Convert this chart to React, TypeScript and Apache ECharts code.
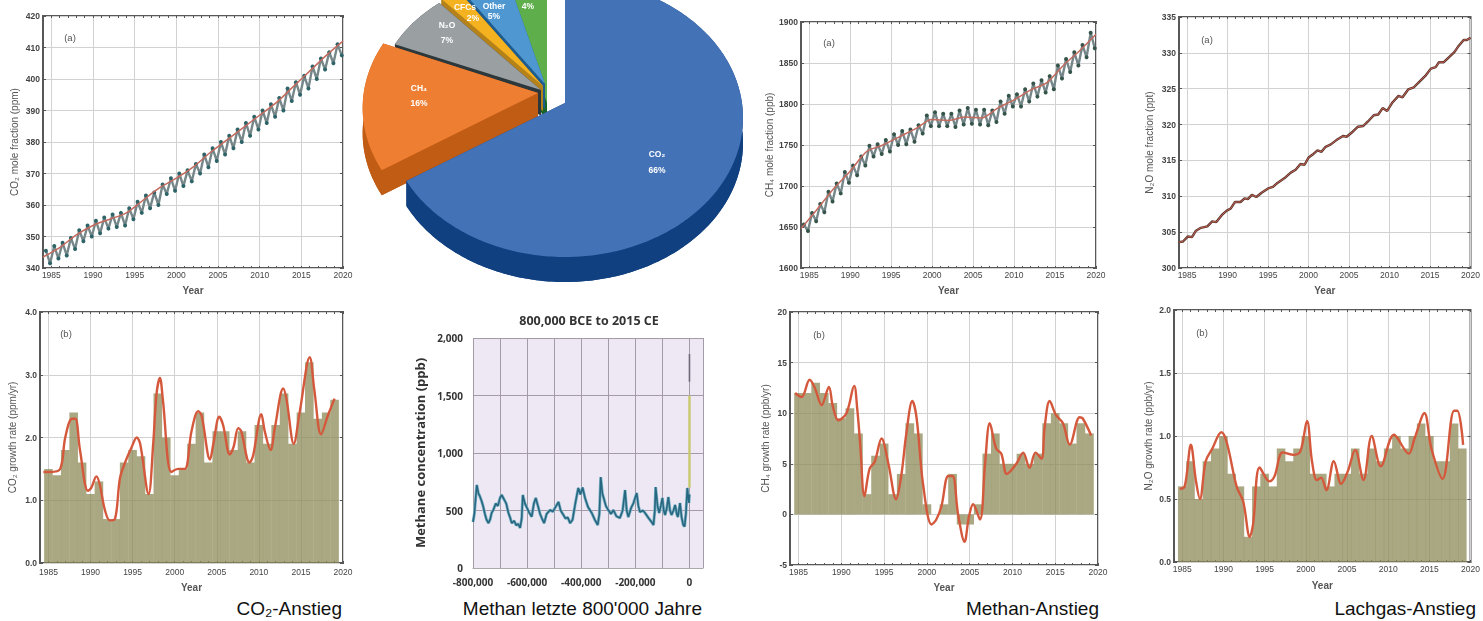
import React, { useEffect, useRef } from "react";
import * as echarts from "echarts";

const labelYears = [1985, 1990, 1995, 2000, 2005, 2010, 2015, 2020];
const tickYears = [1985,1986,1987,1988,1989,1990,1991,1992,1993,1994,1995,1996,1997,1998,1999,2000,2001,2002,2003,2004,2005,2006,2007,2008,2009,2010,2011,2012,2013,2014,2015,2016,2017,2018,2019,2020];
const barYears = tickYears.slice(0, 35);

// [year, peak, trough]
const co2Seasonal = [[1984,345.5,341.5],[1985,347,343],[1986,348,344],[1987,349.5,346],[1988,352,348.5],[1989,353.5,350],[1990,355,351],[1991,356,352.5],[1992,357,353],[1993,357.5,353.5],[1994,359,355.5],[1995,361,357.5],[1996,363,359],[1997,364,360],[1998,366.5,363.5],[1999,368.5,364.5],[2000,370,366],[2001,371,367.5],[2002,373,370],[2003,376,372],[2004,378,374],[2005,380,376],[2006,382,378],[2007,384,380],[2008,386,382],[2009,388,384],[2010,390,386],[2011,392,388],[2012,394,390],[2013,397,393],[2014,399,395],[2015,401,397],[2016,404,400],[2017,406.5,403],[2018,408.5,405],[2019,411,407.5]];
const co2Trend = [[1984,343.5],[1986,346.5],[1988,350.5],[1990,353.5],[1992,355.5],[1994,357.5],[1996,361.5],[1998,365.5],[2000,368.5],[2002,372],[2004,376.5],[2006,380.5],[2008,384.5],[2010,388.5],[2012,392.5],[2014,397.5],[2016,402.5],[2018,407.5],[2020,412]];
const ch4Seasonal = [[1984,1653,1645],[1985,1667,1657],[1986,1678,1668],[1987,1693,1681],[1988,1703,1691],[1989,1717,1704],[1990,1725,1713],[1991,1736,1725],[1992,1749,1736],[1993,1751,1739],[1994,1756,1742],[1995,1763,1750],[1996,1767,1751],[1997,1769,1754],[1998,1774,1764],[1999,1786,1773],[2000,1790,1773],[2001,1788,1773],[2002,1788,1772],[2003,1792,1775],[2004,1795,1776],[2005,1793,1775],[2006,1793,1774],[2007,1792,1778],[2008,1803,1788],[2009,1810,1797],[2010,1812,1797],[2011,1818,1803],[2012,1825,1809],[2013,1829,1814],[2014,1834,1818],[2015,1847,1831],[2016,1855,1839],[2017,1863,1847],[2018,1872,1857],[2019,1887,1868]];
const ch4Trend = [[1984,1648],[1986,1672],[1988,1697],[1990,1718],[1992,1742],[1994,1750],[1996,1760],[1998,1770],[2000,1781],[2002,1780],[2004,1784],[2006,1783],[2008,1795],[2010,1805],[2012,1817],[2014,1826],[2016,1847],[2018,1865],[2020,1885]];
const n2oLine = [[1984,303.6],[1984.5,303.7],[1985.1,304.4],[1985.6,304.3],[1986.1,305.2],[1986.7,305.6],[1987.5,305.8],[1988.1,306.5],[1988.6,306.4],[1989.3,307.4],[1989.9,308],[1990.4,308.3],[1990.9,309.2],[1991.6,309.2],[1992.1,309.7],[1992.5,309.6],[1993,310.2],[1993.55,309.9],[1994.2,310.5],[1995,311.1],[1995.6,311.3],[1996.2,311.9],[1997,312.5],[1997.8,313.3],[1998.4,313.7],[1999,314.5],[1999.5,314.4],[2000,315.4],[2000.6,315.9],[2001.1,316.4],[2001.6,316.2],[2002.1,316.9],[2002.7,317.2],[2003.4,317.8],[2004.25,318.4],[2004.7,318.3],[2005.45,319],[2006.1,319.7],[2006.75,319.8],[2007.3,320.4],[2008.05,321.3],[2008.6,321.4],[2009.15,322.3],[2009.7,321.9],[2010.3,323],[2011.1,324],[2011.6,323.8],[2012.3,324.9],[2013,325.2],[2013.7,326],[2014.5,326.9],[2015.1,327.8],[2015.7,328],[2016.1,328.7],[2016.7,328.7],[2017.35,329.4],[2018,330.1],[2018.55,331],[2019.15,331.8],[2019.55,331.8],[2020,332.1]];

const co2Bars = [1.5,1.4,1.8,2.4,1.6,1.1,1.3,0.7,0.7,1.6,1.8,1.7,1.1,2.7,2.0,1.4,1.5,1.9,2.4,1.6,2.1,2.1,1.8,2.1,1.6,2.2,1.9,2.2,2.7,1.9,2.4,3.2,2.3,2.4,2.6];
const co2Rate = [[1984.4,1.45],[1985.2,1.45],[1986.4,1.5],[1987,2.0],[1987.8,2.3],[1988.2,2.3],[1988.75,1.8],[1989.7,1.15],[1990.1,1.2],[1990.7,1.38],[1991.1,1.25],[1991.7,0.85],[1992.3,0.68],[1992.9,0.7],[1993.5,1.35],[1994.1,1.6],[1994.9,1.85],[1995.5,2.0],[1995.9,1.9],[1996.9,1.1],[1997.45,1.9],[1997.85,2.7],[1998.25,2.95],[1998.6,2.6],[1999.6,1.45],[2000.4,1.5],[2001.2,1.5],[2002,2.1],[2002.8,2.42],[2003.2,2.35],[2004.2,1.65],[2004.6,1.9],[2005.3,2.33],[2005.75,2.2],[2006.55,1.73],[2007,1.85],[2007.55,2.15],[2007.9,2.1],[2008.9,1.6],[2009.3,1.7],[2010.3,2.37],[2010.7,2.1],[2011.4,1.8],[2011.9,2.15],[2012.9,2.78],[2013.3,2.6],[2014.15,1.9],[2014.85,2.4],[2016.05,3.28],[2016.6,2.75],[2017.4,2.05],[2018.2,2.35],[2019,2.62]];
const ch4Bars = [12,12,13,12,11,9.5,10.5,8,2,5.8,7,2,4,9,8,1,0,1,4,-1,-1,1,6,8,5,5,6,5,6,9,10,9,7,9,8];
const ch4Rate = [[1984.6,12],[1985.35,11.6],[1986.3,13.3],[1986.9,12.5],[1987.7,10.8],[1988.55,12.6],[1989,10.7],[1989.65,9.3],[1990.6,10],[1991.5,12.7],[1991.85,10.5],[1992.2,7],[1992.7,1.8],[1993.3,4.5],[1993.9,5.2],[1994.7,7.5],[1995.5,5],[1996.4,1.5],[1997,3.8],[1997.6,8],[1998.3,11.2],[1998.8,9.5],[1999.55,3],[2000.55,-1],[2001.1,-0.5],[2001.7,0.8],[2002.5,3.8],[2003,3.8],[2003.65,0],[2004.4,-2.7],[2004.9,-0.3],[2005.4,1],[2006.2,-0.5],[2006.8,5],[2007.35,9],[2008.1,6.5],[2008.7,6],[2009.35,4],[2010.45,5],[2011.25,6.1],[2012,4.6],[2012.7,6.1],[2013.4,5.5],[2013.75,8.5],[2014.35,11.2],[2015.1,9.8],[2015.9,9],[2016.7,6.9],[2017.85,9.6],[2018.2,9.5],[2019.2,7.8]];
const n2oBars = [0.6,0.8,0.5,0.8,0.9,1.0,0.7,0.6,0.2,0.6,0.7,0.6,0.9,0.8,0.9,1.0,0.7,0.7,0.6,0.7,0.7,0.9,0.7,0.9,0.8,0.9,1.0,0.9,1.0,1.1,1.0,0.8,0.8,1.1,0.9];
const n2oRate = [[1984.7,0.58],[1985.3,0.6],[1986.05,0.93],[1986.65,0.65],[1987.15,0.5],[1987.85,0.8],[1988.65,0.9],[1989.75,1.03],[1990.4,0.95],[1991.6,0.6],[1992.4,0.48],[1993.2,0.2],[1993.6,0.3],[1994.4,0.75],[1995.6,0.64],[1996.2,0.68],[1997.2,0.87],[1998.55,0.85],[1999.35,0.88],[2000.15,1.12],[2000.75,0.8],[2001.35,0.65],[2001.85,0.67],[2002.5,0.57],[2003.4,0.8],[2004.3,0.62],[2005.1,0.72],[2006,0.89],[2007,0.65],[2008,1.0],[2009.1,0.76],[2010.7,1.01],[2012.5,0.86],[2013.2,0.98],[2014.4,1.18],[2015.25,0.9],[2016.6,0.66],[2018,1.2],[2018.4,1.2],[2019.1,0.93]];

// [thousand years, ppb]
const methaneSeries = [[-800,400],[-795,470],[-786,722],[-780,650],[-774,620],[-768,580],[-762,533],[-756,470],[-750,420],[-743,390],[-737,420],[-731,480],[-725,504],[-716,560],[-708,540],[-700,610],[-694,635],[-686,600],[-677,560],[-669,478],[-663,440],[-657,390],[-648,410],[-640,370],[-633,385],[-626,348],[-620,430],[-616,635],[-608,560],[-600,520],[-592,480],[-583,446],[-575,560],[-568,609],[-560,540],[-552,470],[-545,430],[-537,390],[-528,470],[-515,504],[-505,490],[-495,530],[-484,574],[-476,500],[-468,470],[-458,430],[-450,440],[-441,390],[-432,420],[-422,560],[-411,696],[-403,640],[-395,700],[-386,609],[-375,530],[-361,478],[-350,420],[-339,374],[-333,470],[-328,791],[-322,650],[-318,617],[-309,540],[-300,504],[-290,470],[-281,504],[-270,450],[-257,435],[-247,500],[-238,678],[-232,500],[-226,443],[-216,520],[-207,565],[-195,652],[-189,540],[-183,487],[-172,500],[-164,478],[-150,430],[-140,400],[-133,374],[-128,500],[-125,704],[-118,540],[-112,478],[-106,540],[-100,609],[-95,500],[-90,461],[-84,520],[-78,617],[-72,500],[-66,461],[-59,500],[-53,548],[-47,470],[-43,443],[-39,500],[-35,565],[-29,440],[-23,374],[-18,360],[-13,480],[-8,696],[-2,565],[0,640]];
const methaneModernA = [700, 1500];
const methaneModernB = [1620, 1860];

const pieNames = ["CO₂", "CH₄", "N₂O", "CFCs", "Other", ""];
const pieValues = [66, 16, 7, 2, 5, 4];
const pieTop = ["#4472b6", "#ee7e32", "#9a9fa2", "#f4b120", "#4f97d1", "#5eaf4b"];
const pieSide = ["#104080", "#c05c14", "#2c383c", "#b5821a", "#1d5c8c", "#176528"];
const pieApex = [[565, 103], [538, 93], [541, 90], [543, 86], [545, 84], [547, 103]];
const pieCenterDrop = [15, 15, 15, 15, 15, 15];
const pieScale = [1, 0.985, 0.93, 0.93, 0.93, 0.93];
const pieLabelPos = [[657, 154], [419, 88], [447, 25], [465, 7], [494, 6], [528, 6]];
const pieLabelGap = [[0, 16], [0, 15], [0, 15], [8, 11], [0, 10], [0, 0]];

const FONT = "Liberation Sans";
const gridGray = "#d2d2d2";

// the photographed pie is seen in perspective, so shares map onto the ellipse unevenly
function screenAngle(share: number) {
  const deg = share * 360;
  const bend = 237.6, to = 243;
  const out = deg <= bend ? (deg * to) / bend : to + ((deg - bend) * (360 - to)) / (360 - bend);
  return (out * Math.PI) / 180;
}

function pieRender(params: any) {
  const i = params.dataIndex;
  const rx = 178 * pieScale[i], ry = 139 * pieScale[i], depth = 25;
  const total = pieValues.reduce((a, b) => a + b, 0);
  const before = pieValues.slice(0, i).reduce((a, b) => a + b, 0);
  const t0 = screenAngle(before / total);
  const t1 = screenAngle((before + pieValues[i]) / total);
  const [cx, cy] = pieApex[i];
  const ey = cy + pieCenterDrop[i];
  const arc: number[][] = [];
  const n = Math.max(4, Math.ceil(((t1 - t0) * 180) / Math.PI));
  for (let k = 0; k <= n; k++) {
    const t = t0 + ((t1 - t0) * k) / n;
    arc.push([cx + rx * Math.sin(t), ey - ry * Math.cos(t)]);
  }
  const down = (p: number[]) => [p[0], p[1] + depth];
  const z = 100 - i * 10;
  const side = (points: number[][]) => ({ type: "polygon", z2: z, shape: { points }, style: { fill: pieSide[i] } });
  const a = [cx, cy];
  const first = arc[0], last = arc[arc.length - 1];
  const children: any[] = [
    side([down(a), ...arc.map(down)]),
    side([a, first, down(first), down(a)]),
    side([a, last, down(last), down(a)]),
    side([...arc, ...arc.slice().reverse().map(down)]),
    { type: "polygon", z2: z + 1, shape: { points: [a, ...arc] }, style: { fill: pieTop[i] } },
  ];
  const [lx, ly] = pieLabelPos[i];
  const [gx, gy] = pieLabelGap[i];
  const textStyle = { fill: "#fff", fontSize: 8.5, fontWeight: "bold", fontFamily: FONT, align: "center", verticalAlign: "middle" };
  if (pieNames[i]) children.push({ type: "text", z2: 500, style: { ...textStyle, x: lx, y: ly, text: pieNames[i] } });
  children.push({ type: "text", z2: 500, style: { ...textStyle, x: lx + gx, y: ly + gy, text: pieValues[i] + "%" } });
  return { type: "group", children };
}

function seasonal(rows: number[][]) {
  const out: number[][] = [];
  rows.forEach(([y, hi, lo]) => { out.push([y + 0.35, hi]); out.push([y + 0.85, lo]); });
  return out;
}

export default function App() {
  const ref = useRef<HTMLDivElement>(null);
  const capRef = useRef<HTMLDivElement>(null);
  useEffect(() => {
    const chart = echarts.init(ref.current!, null, { renderer: "svg" });
    const cap = echarts.init(capRef.current!, null, { renderer: "svg" });
    const grid: any[] = [], xAxis: any[] = [], yAxis: any[] = [], series: any[] = [], graphic: any[] = [];

    const addPanel = (p: any) => {
      const g = grid.length;
      grid.push({ left: p.l, top: p.t, width: p.r - p.l, height: p.b - p.t, show: true, borderColor: "#585858", borderWidth: 2, backgroundColor: "#fff" });
      const xi = xAxis.length, yi = yAxis.length;
      const base = { type: "value", gridIndex: g, min: 1984, max: 2020 };
      xAxis.push({
        ...base, position: "bottom", name: "Year", nameLocation: "middle", nameGap: p.yearGap,
        nameTextStyle: { fontSize: 10, fontWeight: "bold", color: "#555", fontFamily: FONT },
        axisLine: { onZero: false, show: false },
        axisTick: { show: false, customValues: labelYears },
        axisLabel: { customValues: labelYears, formatter: (v: number) => String(v), fontSize: 8.5, color: "#444", margin: p.labelGap, fontFamily: FONT, hideOverlap: false },
        splitLine: { show: true, lineStyle: { color: gridGray, width: 1 } },
      });
      ["bottom", "top"].forEach((pos) => {
        xAxis.push({
          ...base, position: pos, axisLine: { onZero: false, show: false },
          axisTick: { show: true, inside: true, length: 2, customValues: tickYears, lineStyle: { color: "#555", width: 1 } },
          axisLabel: { show: false }, splitLine: { show: false },
        });
      });
      yAxis.push({
        type: "value", gridIndex: g, min: p.yMin, max: p.yMax, interval: p.yInt, position: "left",
        name: p.yName, nameLocation: "middle", nameGap: p.gap,
        nameTextStyle: { fontSize: 10, color: "#555", fontFamily: FONT },
        axisLine: { onZero: false, show: false },
        axisTick: { show: true, inside: true, length: 3, lineStyle: { color: "#555" } },
        axisLabel: { formatter: p.fmt, fontSize: 8.5, color: "#444", margin: 3, fontFamily: FONT, fontWeight: "bold" },
        splitLine: { show: true, lineStyle: { color: gridGray, width: 1.2 } },
      });
      yAxis.push({
        type: "value", gridIndex: g, min: p.yMin, max: p.yMax, interval: p.yInt, position: "right",
        axisLine: { onZero: false, show: false },
        axisTick: { show: true, inside: true, length: 3, lineStyle: { color: "#555" } },
        axisLabel: { show: false }, splitLine: { show: false },
      });
      graphic.push({
        type: "text", x: p.tagX, y: p.tagY,
        style: { text: p.tag, fontSize: 9.5, fill: "#555", fontFamily: FONT, align: "center", verticalAlign: "middle" },
      });
      if (p.bars) {
        series.push({
          type: "bar", xAxisIndex: xi, yAxisIndex: yi, barWidth: p.barW, silent: true,
          data: barYears.map((y, i) => [y, p.bars[i]]),
          itemStyle: { color: "rgba(140,138,86,0.74)" },
        });
        series.push({
          type: "line", xAxisIndex: xi, yAxisIndex: yi, data: p.rate, smooth: 0.35, symbol: "none", silent: true,
          lineStyle: { color: "#d4583c", width: 2.4 }, z: 5,
        });
      }
      if (p.seasonal) {
        series.push({
          type: "line", xAxisIndex: xi, yAxisIndex: yi, data: seasonal(p.seasonal), symbol: "circle", symbolSize: 4, showSymbol: true, silent: true,
          lineStyle: { color: "#76878a", width: 2.4 }, itemStyle: { color: p.dark }, z: 4,
        });
        series.push({
          type: "line", xAxisIndex: xi, yAxisIndex: yi, data: p.trend, symbol: "none", silent: true, smooth: 0.3,
          lineStyle: { color: "#c46a5e", width: 1.5 }, z: 5,
        });
      }
      if (p.line) {
        series.push({
          type: "line", xAxisIndex: xi, yAxisIndex: yi, data: p.line, symbol: "none", silent: true,
          lineStyle: { color: "#55352f", width: 2.4 }, z: 4,
        });
        series.push({
          type: "line", xAxisIndex: xi, yAxisIndex: yi, data: p.line, symbol: "none", silent: true,
          lineStyle: { color: "#c8604f", width: 1 }, z: 5,
        });
      }
    };

    const int0 = (v: number) => String(v);
    const dec1 = (v: number) => v.toFixed(1);
    addPanel({ l: 43, r: 343, t: 16, b: 268, labelGap: 2, yearGap: 17, yMin: 340, yMax: 420, yInt: 10, fmt: int0, gap: 24, yName: "CO₂ mole fraction (ppm)", tag: "(a)", tagX: 70, tagY: 37, seasonal: co2Seasonal, trend: co2Trend, dark: "#2e6468" });
    addPanel({ l: 40, r: 343, t: 312, b: 563, labelGap: 4, yearGap: 19, yMin: 0, yMax: 4, yInt: 1, fmt: dec1, gap: 23, yName: "CO₂ growth rate (ppm/yr)", tag: "(b)", tagX: 66, tagY: 333, bars: co2Bars, rate: co2Rate, barW: 8.6 });
    addPanel({ l: 801, r: 1096, t: 22, b: 268, labelGap: 2, yearGap: 17, yMin: 1600, yMax: 1900, yInt: 50, fmt: int0, gap: 27, yName: "CH₄ mole fraction (ppb)", tag: "(a)", tagX: 829, tagY: 42, seasonal: ch4Seasonal, trend: ch4Trend, dark: "#35544a" });
    addPanel({ l: 790, r: 1098, t: 312, b: 565, labelGap: 2, yearGap: 17, yMin: -5, yMax: 20, yInt: 5, fmt: int0, gap: 20, yName: "CH₄ growth rate (ppb/yr)", tag: "(b)", tagX: 819, tagY: 334, bars: ch4Bars, rate: ch4Rate, barW: 8.7 });
    addPanel({ l: 1179, r: 1477, t: 17, b: 268, labelGap: 2, yearGap: 17, yMin: 300, yMax: 335, yInt: 5, fmt: int0, gap: 25, yName: "N₂O mole fraction (ppt)", tag: "(a)", tagX: 1207, tagY: 39, line: n2oLine });
    addPanel({ l: 1174, r: 1477, t: 310, b: 562, labelGap: 2, yearGap: 18, yMin: 0, yMax: 2, yInt: 0.5, fmt: dec1, gap: 21, yName: "N₂O growth rate (ppb/yr)", tag: "(b)", tagX: 1202, tagY: 332, bars: n2oBars, rate: n2oRate, barW: 8.6 });

    // methane 800 000 years
    const mg = grid.length;
    grid.push({ left: 473, top: 338, width: 230, height: 230, show: true, backgroundColor: "#ede8f3", borderWidth: 0 });
    const mx = xAxis.length, my = yAxis.length;
    xAxis.push({
      type: "value", gridIndex: mg, min: -800000, max: 50000, interval: 100000,
      axisLine: { onZero: false, show: true, lineStyle: { color: "#aaa" } }, axisTick: { show: false },
      axisLabel: { formatter: (v: number) => (v % 200000 === 0 ? v.toLocaleString("en-US") : ""), fontSize: 10, fontWeight: "bold", color: "#333", margin: 9, fontFamily: "Open Sans", hideOverlap: false },
      splitLine: { show: true, lineStyle: { color: "#a49ba9", width: 1 } },
    });
    yAxis.push({
      type: "value", gridIndex: mg, min: 0, max: 2000, interval: 500,
      name: "Methane concentration (ppb)", nameLocation: "middle", nameGap: 47,
      nameTextStyle: { fontSize: 13, fontWeight: "bold", color: "#333", fontFamily: "Open Sans" },
      axisLine: { onZero: false, show: false }, axisTick: { show: false },
      axisLabel: { fontSize: 10, fontWeight: "bold", color: "#333", margin: 10, fontFamily: "Open Sans" },
      splitLine: { show: true, lineStyle: { color: "#a49ba9", width: 1 } },
    });
    const methaneData = methaneSeries.map(([k, v]) => [k * 1000, v]);
    series.push({
      type: "line", xAxisIndex: mx, yAxisIndex: my, symbol: "none", silent: true, z: 3,
      data: methaneData, lineStyle: { color: "#7fb4c8", width: 3 },
    });
    series.push({
      type: "line", xAxisIndex: mx, yAxisIndex: my, symbol: "none", silent: true, z: 4,
      data: methaneData, lineStyle: { color: "#286780", width: 1.6 },
    });
    series.push({
      type: "line", xAxisIndex: mx, yAxisIndex: my, symbol: "none", silent: true, z: 4,
      data: methaneModernA.map((v) => [0, v]), lineStyle: { color: "#c8c96e", width: 2.4 },
    });
    series.push({
      type: "line", xAxisIndex: mx, yAxisIndex: my, symbol: "none", silent: true, z: 4,
      data: methaneModernB.map((v) => [0, v]), lineStyle: { color: "#6f6878", width: 1.6 },
    });
    graphic.push({
      type: "text", x: 589, y: 320,
      style: { text: "800,000 BCE to 2015 CE", fontSize: 12.5, fontWeight: "bold", fill: "#333", fontFamily: "Open Sans", align: "center", verticalAlign: "middle" },
    });

    series.push({
      type: "custom", coordinateSystem: "none", silent: true, z: 3,
      data: pieValues.map((v) => [v]), renderItem: pieRender,
    });

    chart.setOption({ animation: false, backgroundColor: "#fff", grid, xAxis, yAxis, series, graphic });

    const capStyle = { fontSize: 19, fill: "#111", fontFamily: FONT, align: "right", verticalAlign: "middle" };
    cap.setOption({
      animation: false,
      graphic: [
        { type: "text", x: 342, y: 608, style: { ...capStyle, text: "CO₂-Anstieg" } },
        { type: "text", x: 702, y: 608, style: { ...capStyle, text: "Methan letzte 800'000 Jahre" } },
        { type: "text", x: 1099, y: 608, style: { ...capStyle, text: "Methan-Anstieg" } },
        { type: "text", x: 1476, y: 608, style: { ...capStyle, text: "Lachgas-Anstieg" } },
      ],
    });
    return () => { chart.dispose(); cap.dispose(); };
  }, []);
  const box: React.CSSProperties = { position: "absolute", left: 0, top: 0, width: 1483, height: 621 };
  return (
    <div style={{ position: "absolute", left: 0, top: 0, width: 1483, height: 621, overflow: "hidden", background: "#fff" }}>
      <div ref={ref} style={{ ...box, filter: "blur(0.7px)" }} />
      <div ref={capRef} style={box} />
    </div>
  );
}
